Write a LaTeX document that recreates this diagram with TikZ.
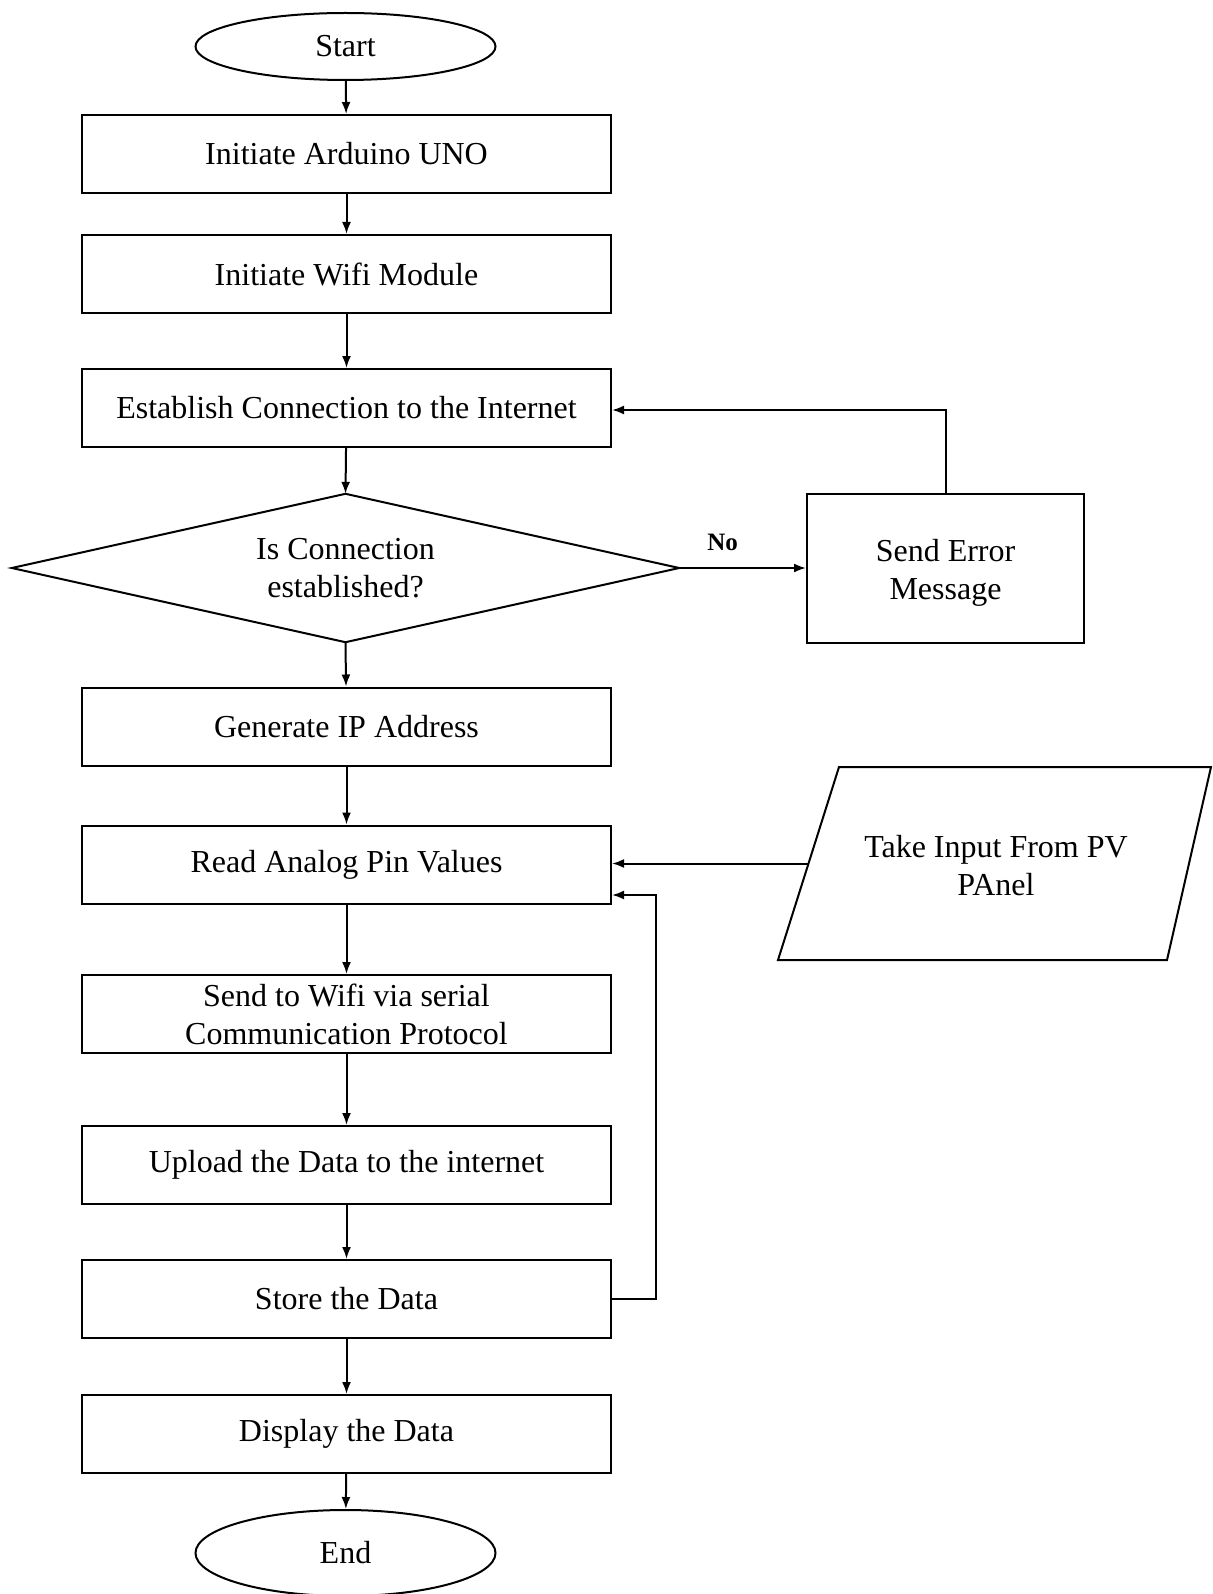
\documentclass[tikz,border=0pt]{standalone}
\usepackage{fontspec}
\setmainfont{Liberation Serif}
\usetikzlibrary{shapes.geometric,arrows.meta,calc}
\begin{document}
\begin{tikzpicture}[x=1pt,y=-1pt,
  every node/.style={font=\fontsize{32}{38}\selectfont, align=center},
  ln/.style={line width=2pt},
  arr/.style={line width=2pt,-{Latex[length=12pt,width=9pt]}},
  procbox/.style={draw, line width=2pt, minimum width=529pt, minimum height=78pt, inner sep=0pt},
  term/.style={draw, ellipse, line width=2pt, minimum width=300pt, inner sep=0pt}
]
\useasboundingbox (0,0) rectangle (1212,1594);
\node[term, minimum height=67pt] (start) at (345.5,46.5) {Start};
\node[procbox] (b1) at (346.5,154) {Initiate Arduino UNO};
\node[procbox] (b2) at (346.5,274) {Initiate Wifi Module};
\node[procbox] (b3) at (346.5,408) {Establish Connection to the Internet};
\node[minimum width=667pt, minimum height=148pt, inner sep=0pt] (dia) at (345.5,568) {Is Connection\\established?};
\draw[ln] (dia.west) -- (dia.north) -- (dia.east) -- (dia.south) -- cycle;
\node[draw, line width=2pt, minimum width=277pt, minimum height=149pt, inner sep=0pt,
  label={[yshift=-5pt]center:{Send Error\\Message}}] (err) at (945.5,568) {};
\node[procbox] (b4) at (346.5,726.5) {Generate IP Address};
\node[procbox] (b5) at (346.5,864.5) {Read Analog Pin Values};
\node[procbox] (b6) at (346.5,1014) {Send to Wifi via serial\\Communication Protocol};
\node[procbox] (b7) at (346.5,1165) {Upload the Data to the internet};
\node[procbox] (b8) at (346.5,1299) {Store the Data};
\node[procbox] (b9) at (346.5,1434) {Display the Data};
\node[term, minimum height=86pt] (end) at (345.5,1553) {End};
% parallelogram
\coordinate (p1) at (778,960);
\coordinate (p2) at (839,767);
\coordinate (p3) at (1211,767);
\coordinate (p4) at (1167,960);
\draw[ln] (p1) -- (p2) -- (p3) -- (p4) -- cycle;
\node (pv) at (996,866) {Take Input From PV\\PAnel};
\coordinate (pvin) at ($(p1)!0.5!(p2)$);
% connectors
\draw[arr] (start) -- (b1);
\draw[arr] (b1) -- (b2);
\draw[arr] (b2) -- (b3);
\draw[arr] (b3) -- (dia.north);
\draw[arr] (dia.south) -- (b4);
\draw[arr] (b4) -- (b5);
\draw[arr] (b5) -- (b6);
\draw[arr] (b6) -- (b7);
\draw[arr] (b7) -- (b8);
\draw[arr] (b8) -- (b9);
\draw[arr] (b9) -- (end);
\draw[arr] (dia.east) -- node[above=13pt, xshift=-20pt, font=\fontsize{25}{30}\selectfont\bfseries] {No} (err.west);
\draw[arr] (err.north) |- ([yshift=-2pt]b3.east);
\draw[arr] (pvin) -- (pvin -| b5.east);
\draw[arr] (b8.east) -- ++(44,0) |- ([yshift=-30.5pt]b5.east);
\end{tikzpicture}
\end{document}
